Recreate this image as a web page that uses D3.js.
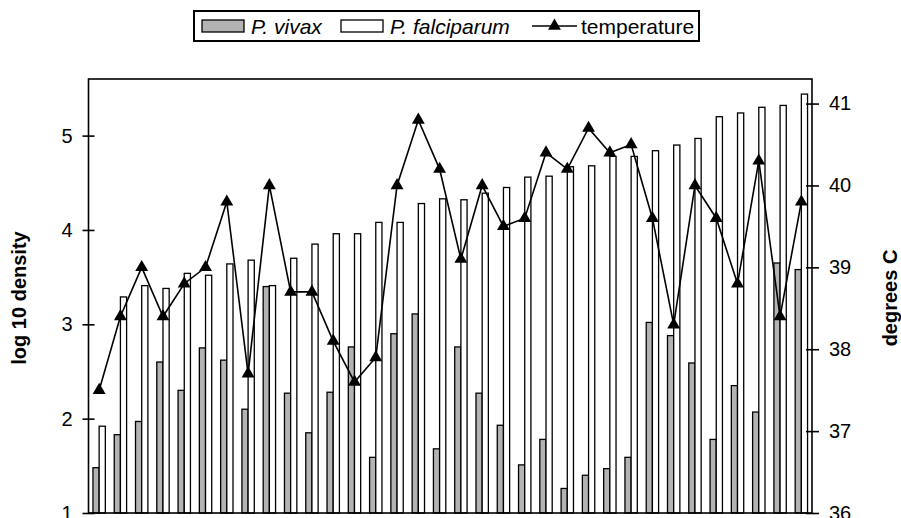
<!DOCTYPE html>
<html lang="en">
<head>
    <meta charset="UTF-8">
    <title>P. vivax / P. falciparum density and temperature</title>
    <script src="https://d3js.org/d3.v7.min.js"></script>
    <style>
        body {
            margin: 0;
            background: #fff;
            font-family: 'Liberation Sans', Arial, sans-serif;
        }
        .tick-label {
            font-size: 20px;
            fill: #000;
        }
        .axis-title {
            font-size: 20px;
            font-weight: bold;
            fill: #000;
        }
        .legend text {
            font-size: 21px;
            fill: #000;
        }
    </style>
</head>
<body>
    <svg id="chart" width="901" height="518"></svg>
    <script>
        // values, one entry per sample (34)
        const samples = d3.range(1, 35);

        const vivax = [
            1.48, 1.83, 1.97, 2.60, 2.30, 2.75, 2.62, 2.10, 3.40, 2.27,
            1.85, 2.28, 2.76, 1.59, 2.90, 3.11, 1.68, 2.76, 2.27, 1.93,
            1.51, 1.78, 1.26, 1.40, 1.47, 1.59, 3.02, 2.88, 2.59, 1.78,
            2.35, 2.07, 3.65, 3.58
        ];

        const falciparum = [
            1.92, 3.29, 3.41, 3.38, 3.54, 3.52, 3.64, 3.68, 3.41, 3.70,
            3.85, 3.96, 3.96, 4.08, 4.08, 4.28, 4.33, 4.32, 4.39, 4.45,
            4.56, 4.57, 4.67, 4.68, 4.78, 4.78, 4.84, 4.90, 4.97, 5.20,
            5.24, 5.30, 5.32, 5.44
        ];

        const temperature = [
            37.5, 38.4, 39.0, 38.4, 38.8, 39.0, 39.8, 37.7, 40.0, 38.7,
            38.7, 38.1, 37.6, 37.9, 40.0, 40.8, 40.2, 39.1, 40.0, 39.5,
            39.6, 40.4, 40.2, 40.7, 40.4, 40.5, 39.6, 38.3, 40.0, 39.6,
            38.8, 40.3, 38.4, 39.8
        ];

        const leftTicks = [1, 2, 3, 4, 5];
        const rightTicks = [36, 37, 38, 39, 40, 41];

        const plot = { left: 88.5, right: 812, top: 79, bottom: 513 };

        const svg = d3.select("#chart");

        const x = d3.scaleBand()
            .domain(samples)
            .range([plot.left, plot.right]);

        const xSub = d3.scaleBand()
            .domain(["vivax", "falciparum"])
            .range([0, x.bandwidth()])
            .paddingOuter(0.72);

        const yLeft = d3.scaleLinear()
            .domain([1, 5.6])
            .range([plot.bottom, plot.top]);

        const yRight = d3.scaleLinear()
            .domain([36, 41.3])
            .range([plot.bottom, plot.top]);

        // bars
        const series = [
            { key: "vivax", values: vivax, fill: "#b3b3b3" },
            { key: "falciparum", values: falciparum, fill: "#fff" }
        ];

        series.forEach(s => {
            svg.append("g")
                .selectAll("rect")
                .data(s.values)
                .join("rect")
                .attr("x", (d, i) => x(samples[i]) + xSub(s.key))
                .attr("y", d => yLeft(d))
                .attr("width", xSub.bandwidth())
                .attr("height", d => yLeft(1) - yLeft(d))
                .attr("fill", s.fill)
                .attr("stroke", "#000")
                .attr("stroke-width", 1.3);
        });

        // frame
        svg.append("rect")
            .attr("x", plot.left)
            .attr("y", plot.top)
            .attr("width", plot.right - plot.left)
            .attr("height", plot.bottom - plot.top)
            .attr("fill", "none")
            .attr("stroke", "#000")
            .attr("stroke-width", 1.6);

        // left axis
        const leftAxis = svg.append("g")
            .attr("transform", `translate(${plot.left},0)`)
            .call(d3.axisLeft(yLeft).tickValues(leftTicks).tickFormat(d3.format("d")).tickSize(6));
        leftAxis.select(".domain").remove();
        leftAxis.selectAll(".tick line")
            .attr("x1", 6).attr("x2", -6)
            .attr("stroke", "#000").attr("stroke-width", 1.6);
        leftAxis.selectAll(".tick text")
            .attr("class", "tick-label")
            .attr("x", -16)
            .attr("font-family", null).attr("font-size", null);

        // right axis
        const rightAxis = svg.append("g")
            .attr("transform", `translate(${plot.right},0)`)
            .call(d3.axisRight(yRight).tickValues(rightTicks).tickFormat(d3.format("d")).tickSize(6));
        rightAxis.select(".domain").remove();
        rightAxis.selectAll(".tick line")
            .attr("x1", -6).attr("x2", 7)
            .attr("stroke", "#000").attr("stroke-width", 1.6);
        rightAxis.selectAll(".tick text")
            .attr("class", "tick-label")
            .attr("x", 17)
            .attr("font-family", null).attr("font-size", null);

        // temperature line
        const line = d3.line()
            .x((d, i) => x(samples[i]) + x.bandwidth() / 2)
            .y(d => yRight(d));

        svg.append("path")
            .datum(temperature)
            .attr("fill", "none")
            .attr("stroke", "#000")
            .attr("stroke-width", 1.6)
            .attr("d", line);

        const tri = d3.symbol().type(d3.symbolTriangle).size(72);

        svg.append("g")
            .selectAll("path")
            .data(temperature)
            .join("path")
            .attr("d", tri)
            .attr("transform", (d, i) => `translate(${x(samples[i]) + x.bandwidth() / 2},${yRight(d)})`)
            .attr("fill", "#000");

        // axis titles
        svg.append("text")
            .attr("class", "axis-title")
            .attr("text-anchor", "middle")
            .attr("transform", "translate(26,298) rotate(-90)")
            .text("log 10 density");

        svg.append("text")
            .attr("class", "axis-title")
            .attr("text-anchor", "middle")
            .attr("transform", "translate(897,298) rotate(-90)")
            .text("degrees C");

        // legend
        const legend = svg.append("g").attr("class", "legend");

        legend.append("rect")
            .attr("x", 194).attr("y", 11)
            .attr("width", 505).attr("height", 30)
            .attr("fill", "#fff")
            .attr("stroke", "#000")
            .attr("stroke-width", 2);

        const legendItems = [
            { label: "P. vivax", kind: "bar", fill: "#b3b3b3", x: 202 },
            { label: "P. falciparum", kind: "bar", fill: "#fff", x: 341 },
            { label: "temperature", kind: "line", x: 532 }
        ];

        legendItems.forEach(item => {
            const g = legend.append("g").attr("transform", `translate(${item.x},26)`);
            if (item.kind === "bar") {
                g.append("rect")
                    .attr("x", 0).attr("y", -6)
                    .attr("width", 42).attr("height", 12)
                    .attr("fill", item.fill)
                    .attr("stroke", "#000")
                    .attr("stroke-width", 1.3);
                g.append("text")
                    .attr("x", 49).attr("y", 7.5)
                    .attr("font-style", "italic")
                    .text(item.label);
            } else {
                g.append("line")
                    .attr("x1", 0).attr("x2", 45)
                    .attr("stroke", "#000").attr("stroke-width", 1.6);
                g.append("path")
                    .attr("d", tri)
                    .attr("transform", "translate(22.5,0)")
                    .attr("fill", "#000");
                g.append("text")
                    .attr("x", 49).attr("y", 7.5)
                    .text(item.label);
            }
        });
    </script>
</body>
</html>
